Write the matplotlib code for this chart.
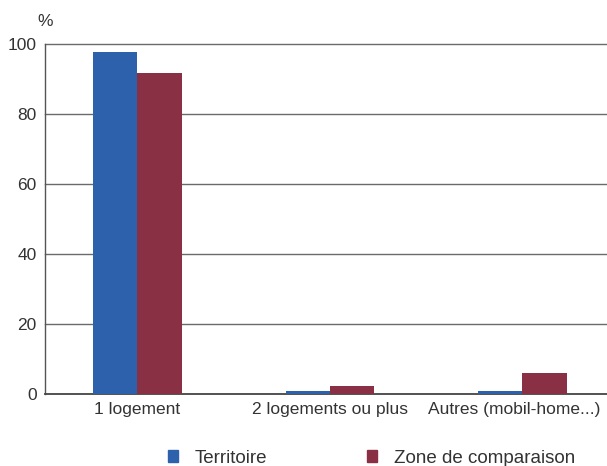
import matplotlib
matplotlib.use("Agg")
import matplotlib.pyplot as plt
import matplotlib.transforms as mtransforms
import numpy as np
from matplotlib.patches import Patch

categories = ["1 logement", "2 logements ou plus", "Autres (mobil-home...)"]
territoire = [97.7, 0.9, 1.0]
zone_comparaison = [91.7, 2.3, 6.0]
series_names = ["Territoire", "Zone de comparaison"]
yticks = [0, 20, 40, 60, 80, 100]

plt.rcParams["font.family"] = ["Liberation Sans", "DejaVu Sans"]

blue = "#2d61ac"
maroon = "#8a3044"
grid_col = "#6a6a6a"
text_col = "#333333"

fig = plt.figure(figsize=(6.07, 4.66), dpi=100)
ax = fig.add_axes([0.074, 0.1545, 0.926, 0.7511])

x = np.arange(len(categories))
w = 0.23
ax.bar(x - w / 2, territoire, width=w, color=blue, zorder=3)
ax.bar(x + w / 2, zone_comparaison, width=w, color=maroon, zorder=3)

ax.set_xlim(-0.48, 2.44)
ax.set_ylim(0, 100)
ax.set_yticks(yticks)
ax.set_yticklabels([str(v) for v in yticks], fontsize=12.5, color=text_col)
ax.set_xticks(x)
ax.set_xticklabels(categories, fontsize=12.5, color=text_col)
ax.tick_params(axis="both", length=0, pad=6)

# keep the last category label inside the figure
last = ax.get_xticklabels()[-1]
last.set_transform(last.get_transform() +
                   mtransforms.ScaledTranslation(-0.08, 0, fig.dpi_scale_trans))

for v in yticks[1:]:
    ax.axhline(v, color=grid_col, lw=1.0, zorder=1, clip_on=False)

for s in ["top", "right"]:
    ax.spines[s].set_visible(False)
ax.spines["left"].set_color("#555555")
ax.spines["bottom"].set_color("#444444")
ax.spines["left"].set_linewidth(1.0)
ax.spines["bottom"].set_linewidth(1.3)

fig.text(0.074, 0.953, "%", fontsize=12.5, color=text_col, ha="center", va="center")

handles = [Patch(color=blue), Patch(color=maroon)]
fig.legend(handles, series_names, loc="center", bbox_to_anchor=(0.612, 0.017),
           ncol=2, frameon=False, fontsize=13.5, handlelength=0.55, handleheight=0.6,
           handletextpad=0.9, columnspacing=5.3, labelcolor=text_col,
           borderpad=0.1)

fig.savefig("out.png", dpi=100, facecolor="white")
